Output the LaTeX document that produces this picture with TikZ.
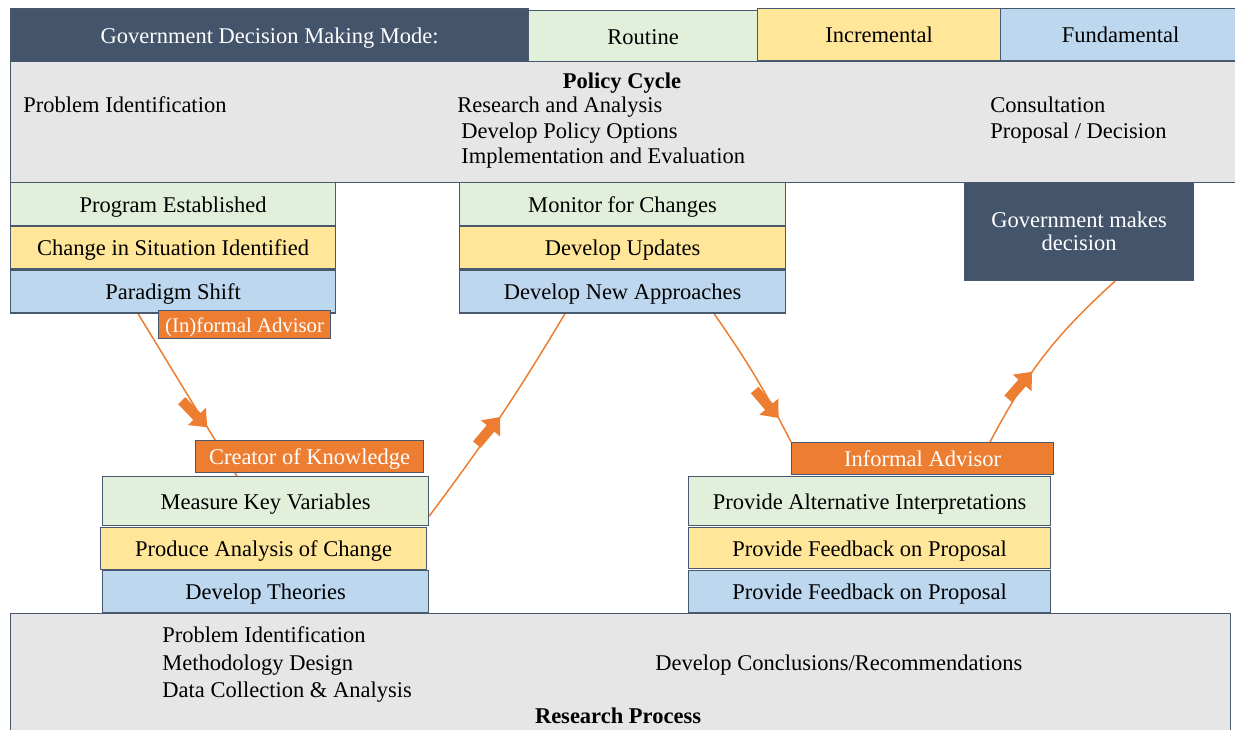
\documentclass[tikz,border=0pt]{standalone}
\usepackage{fontspec}
\setmainfont{Liberation Serif}
\usetikzlibrary{arrows.meta, backgrounds, calc, decorations.markings}
\definecolor{modedark}{RGB}{68,84,106}
\definecolor{routinefill}{RGB}{226,239,218}
\definecolor{incrfill}{RGB}{255,230,153}
\definecolor{fundfill}{RGB}{189,215,238}
\definecolor{cyclefill}{RGB}{231,230,230}
\definecolor{advisorfill}{RGB}{237,125,49}
\definecolor{celledge}{RGB}{72,88,110}
\tikzset{
  cell/.style={draw=celledge, line width=0.6pt, inner sep=0pt, anchor=north west, font=\fontsize{11.25}{13}\selectfont},
  boxtext/.style={text height=8pt, text depth=0pt},
  routine/.style={cell, boxtext, fill=routinefill},
  incr/.style={cell, boxtext, fill=incrfill},
  fund/.style={cell, boxtext, fill=fundfill},
  dark/.style={cell, fill=modedark, text=white},
  advisor/.style={cell, boxtext, fill=advisorfill, text=white},
  cyclebox/.style={cell, fill=cyclefill},
  cycletext/.style={inner sep=0pt, anchor=west, boxtext, font=\fontsize{11.25}{13}\selectfont},
  link/.style 2 args={advisorfill, line width=0.75pt, postaction={decorate},
    decoration={markings, mark=at position #1 with {\draw[advisorfill, line width=5pt, -{Triangle[length=7.5pt,width=12pt]}] (-18pt,#2) -- (0pt,0pt);}}}
}
\begin{document}
\begin{tikzpicture}[x=0.5pt, y=-0.5pt]
  \useasboundingbox (0,0) rectangle (1235,729);
  \clip (0,0) rectangle (1235,729);
  % decision modes
  \node[dark, boxtext, minimum width=259pt, minimum height=26.5pt] (mode) at (10,8) {Government Decision Making Mode:};
  \node[routine, minimum width=114.5pt, minimum height=25.5pt] (routine) at (528,10) {Routine};
  \node[incr, minimum width=121.5pt, minimum height=26pt] (incremental) at (757,8) {Incremental};
  \node[fund, minimum width=120pt, minimum height=26pt] (fundamental) at (1000,8) {Fundamental};
  % policy cycle
  \node[cyclebox, minimum width=612.5pt, minimum height=60.5pt] (policy) at (10,61) {};
  \node[cycletext, anchor=center, font=\fontsize{11.25}{13}\selectfont\bfseries] (policytitle) at (622,80) {Policy Cycle};
  \node[cycletext] (pproblem) at (23,104) {Problem Identification};
  \node[cycletext] (presearch) at (457,104) {Research and Analysis};
  \node[cycletext] (poptions) at (461,130) {Develop Policy Options};
  \node[cycletext] (pimpl) at (461,155) {Implementation and Evaluation};
  \node[cycletext] (pconsult) at (990,104) {Consultation};
  \node[cycletext] (pproposal) at (990,130) {Proposal / Decision};
  % left stack
  \node[routine, minimum width=162.5pt, minimum height=21.5pt] (progest) at (10,182) {Program Established};
  \node[incr, minimum width=162.5pt, minimum height=21pt] (change) at (progest.south west) {Change in Situation Identified};
  \node[fund, minimum width=162.5pt, minimum height=21.5pt] (paradigm) at (change.south west) {Paradigm Shift};
  \node[advisor, minimum width=86pt, minimum height=14pt, font=\fontsize{10.4}{12}\selectfont] (inadvisor) at (158,310) {(In)formal Advisor};
  % middle stack
  \node[routine, minimum width=163pt, minimum height=21.5pt] (monitor) at (459,182) {Monitor for Changes};
  \node[incr, minimum width=163pt, minimum height=21pt] (updates) at (monitor.south west) {Develop Updates};
  \node[fund, minimum width=163pt, minimum height=21.5pt] (newappr) at (updates.south west) {Develop New Approaches};
  % decision
  \node[dark, minimum width=114.5pt, minimum height=49pt, align=center, font=\fontsize{11.25}{11.5}\selectfont] (govdec) at (964,182) {Government makes\\decision};
  % researcher roles
  \node[advisor, minimum width=114pt, minimum height=16pt] (creator) at (195,440) {Creator of Knowledge};
  \node[routine, minimum width=163pt, minimum height=24.5pt] (measure) at (102,476) {Measure Key Variables};
  \node[incr, minimum width=163pt, minimum height=21pt] (produce) at (100,527) {Produce Analysis of Change};
  \node[fund, minimum width=163pt, minimum height=21pt] (theories) at (102,570) {Develop Theories};
  \node[advisor, minimum width=131pt, minimum height=16pt] (informal) at (791,442) {Informal Advisor};
  \node[routine, minimum width=181pt, minimum height=24.5pt] (altinterp) at (688,476) {Provide Alternative Interpretations};
  \node[incr, minimum width=181pt, minimum height=20.5pt] (fbincr) at (688,527) {Provide Feedback on Proposal};
  \node[fund, minimum width=181pt, minimum height=21pt] (fbfund) at (688,570) {Provide Feedback on Proposal};
  % research process
  \node[cyclebox, minimum width=610pt, minimum height=64pt] (research) at (10,613) {};
  \node[cycletext] (rproblem) at (162,634) {Problem Identification};
  \node[cycletext] (rmethod) at (162,662) {Methodology Design};
  \node[cycletext] (rdata) at (162,689) {Data Collection \& Analysis};
  \node[cycletext] (rconcl) at (655,662) {Develop Conclusions/Recommendations};
  \node[cycletext, anchor=center, font=\fontsize{11.25}{13}\selectfont\bfseries] (researchtitle) at (618,715) {Research Process};
  % connectors
  \begin{scope}[on background layer]
    \draw[link={0.7}{-4pt}] ([xshift=64pt]paradigm.south west) -- ([xshift=67.5pt]measure.north west);
    \draw[link={0.5}{2pt}] ([yshift=-7.5pt]measure.east) to[bend right=3] ([xshift=53pt]newappr.south west);
    \draw[link={0.82}{-4pt}] ([xshift=127.5pt]newappr.south west) to[bend left=4] (informal.north west);
    \draw[link={0.4}{2pt}] ([xshift=99.5pt]informal.north west) to[bend left=10] ([xshift=75.5pt]govdec.south west);
  \end{scope}
\end{tikzpicture}
\end{document}
